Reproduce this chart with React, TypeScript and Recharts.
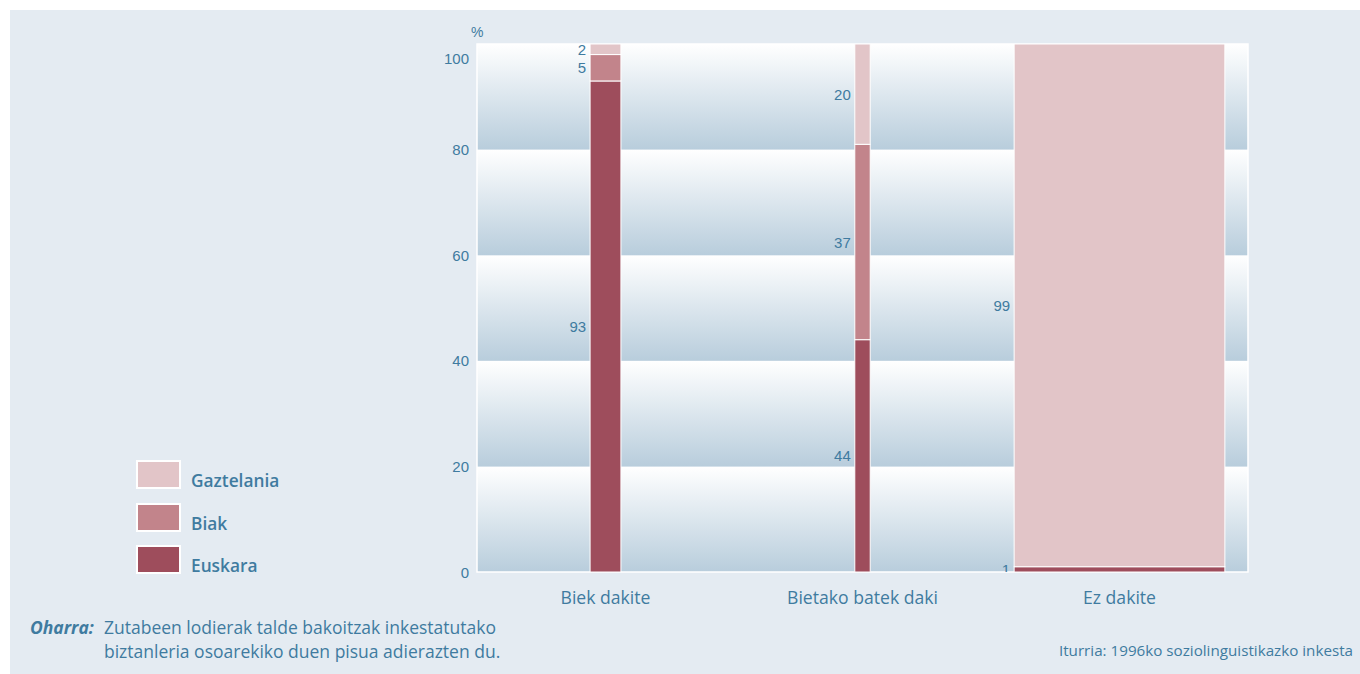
import { BarChart, Bar, XAxis, YAxis, ReferenceArea } from 'recharts';

const groups = ['Biek dakite', 'Bietako batek daki', 'Ez dakite'];
// column width = share of surveyed population (%)
const shares = [12, 6, 82];
const euskara = [93, 44, 1];
const biak = [5, 37, 0];
const gaztelania = [2, 20, 99];
const yTicks = [0, 20, 40, 60, 80, 100];

const series = [
  { key: 'euskara', name: 'Euskara', color: '#9e4d5c' },
  { key: 'biak', name: 'Biak', color: '#c2848b' },
  { key: 'gaztelania', name: 'Gaztelania', color: '#e2c5c8' },
];

const data = groups.map((g, i) => ({
  group: g,
  share: shares[i],
  euskara: euskara[i],
  biak: biak[i],
  gaztelania: gaztelania[i],
}));

const TEXT = '#3f7ba0';
const FONT = '"Open Sans", sans-serif';
const NUM_FONT = '"Liberation Sans", Arial, sans-serif';

const makeShape = (key: string) => (props: any) => {
  const { x, y, width, height, fill, payload, background } = props;
  const v = payload[key];
  if (!v) return <g />;
  // rounded percentages can sum to 101: keep the column inside the plot
  const top = background ? Math.max(y, background.y) : y;
  const h = height - (top - y);
  const w = (width * payload.share) / 100;
  const left = x + width / 2 - w / 2;
  return (
    <g>
      <rect x={left} y={top} width={w} height={h} fill={fill} stroke="#fff" strokeWidth={1} />
      <text
        x={left - 4}
        y={top + h / 2}
        textAnchor="end"
        dominantBaseline="central"
        fill={TEXT}
        fontSize={15}
        fontFamily={NUM_FONT}
      >
        {v}
      </text>
    </g>
  );
};

const YTick = (props: any) => {
  const { x, y, payload } = props;
  return (
    <text
      x={x}
      y={payload.value === 100 ? y + 14 : y}
      textAnchor="end"
      dominantBaseline="central"
      fill={TEXT}
      fontSize={15}
      fontFamily={NUM_FONT}
    >
      {payload.value}
    </text>
  );
};

export default function App() {
  return (
    <div style={{ position: 'absolute', left: 0, top: 0, width: 1360, height: 674, background: '#fff', fontFamily: FONT }}>
      <div style={{ position: 'absolute', left: 10, top: 10, width: 1350, height: 664, background: '#e4ebf2' }} />
      <div style={{ position: 'absolute', left: 0, top: 0 }}>
        <BarChart
          width={1360}
          height={674}
          data={data}
          barCategoryGap={0}
          margin={{ top: 44, right: 112, bottom: 72, left: 417 }}
        >
          <defs>
            <linearGradient id="band" x1="0" y1="0" x2="0" y2="1">
              <stop offset="0%" stopColor="#ffffff" />
              <stop offset="100%" stopColor="#b8cddc" />
            </linearGradient>
          </defs>
          {yTicks.slice(1).map((t, i) => (
            <ReferenceArea key={t} y1={yTicks[i]} y2={t} fill="url(#band)" fillOpacity={1} stroke="none" />
          ))}
          <ReferenceArea y1={0} y2={100} fill="none" stroke="#ffffff" strokeWidth={1.5} />
          <XAxis
            dataKey="group"
            axisLine={false}
            tickLine={false}
            height={30}
            tickMargin={14}
            tick={{ fill: TEXT, fontSize: 17.6, fontFamily: FONT }}
          />
          <YAxis
            type="number"
            domain={[0, 100]}
            allowDataOverflow
            ticks={yTicks}
            axisLine={false}
            tickLine={false}
            width={60}
            tick={<YTick />}
          />
          {series.map((s) => (
            <Bar
              key={s.key}
              dataKey={s.key}
              name={s.name}
              stackId="a"
              fill={s.color}
              shape={makeShape(s.key)}
              isAnimationActive={false}
            />
          ))}
        </BarChart>
      </div>
      <div style={{ position: 'absolute', left: 471, top: 24, fontSize: 14, color: TEXT, fontFamily: NUM_FONT }}>%</div>
      {[...series].reverse().map((s, i) => (
        <div key={s.key} style={{ position: 'absolute', left: 136, top: 457 + i * 42.5, display: 'flex', alignItems: 'center' }}>
          <div style={{ width: 41, height: 25, background: s.color, border: '2px solid #fff', boxSizing: 'content-box' }} />
          <div style={{ marginLeft: 10, marginTop: 12, fontSize: 17.3, fontWeight: 600, color: TEXT }}>{s.name}</div>
        </div>
      ))}
      <div style={{ position: 'absolute', left: 30, top: 615, fontSize: 17.5, color: TEXT, lineHeight: '24px', whiteSpace: 'nowrap' }}>
        <span style={{ fontWeight: 700, fontStyle: 'italic', display: 'inline-block', width: 74 }}>Oharra:</span>
        Zutabeen lodierak talde bakoitzak inkestatutako
        <br />
        <span style={{ display: 'inline-block', width: 74 }} />
        biztanleria osoarekiko duen pisua adierazten du.
      </div>
      <div style={{ position: 'absolute', right: 7, top: 640, fontSize: 15.2, color: TEXT }}>
        Iturria: 1996ko soziolinguistikazko inkesta
      </div>
    </div>
  );
}
